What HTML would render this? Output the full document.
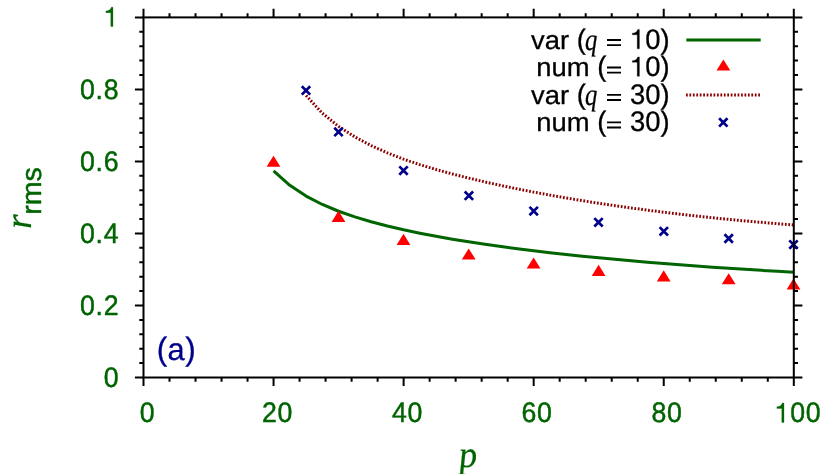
<!DOCTYPE html><html><head><meta charset="utf-8"><title>r_rms vs p</title><style>html,body{margin:0;padding:0;background:#fff}svg{display:block;will-change:transform;transform:translateZ(0);text-rendering:geometricPrecision}</style></head><body>
<svg width="830" height="474" viewBox="0 0 830 474">
<rect width="830" height="474" fill="#fff"/>
<text transform="translate(119.15,387.00) scale(0.975,1.030)" font-family="Liberation Sans, sans-serif" letter-spacing="0.65" font-size="27.4" fill="#006400" stroke="#006400" stroke-width="0.45" stroke-linejoin="round" text-anchor="end">0</text>
<text transform="translate(119.15,314.98) scale(0.975,1.030)" font-family="Liberation Sans, sans-serif" letter-spacing="0.65" font-size="27.4" fill="#006400" stroke="#006400" stroke-width="0.45" stroke-linejoin="round" text-anchor="end">0.2</text>
<text transform="translate(119.15,242.96) scale(0.975,1.030)" font-family="Liberation Sans, sans-serif" letter-spacing="0.65" font-size="27.4" fill="#006400" stroke="#006400" stroke-width="0.45" stroke-linejoin="round" text-anchor="end">0.4</text>
<text transform="translate(119.15,170.94) scale(0.975,1.030)" font-family="Liberation Sans, sans-serif" letter-spacing="0.65" font-size="27.4" fill="#006400" stroke="#006400" stroke-width="0.45" stroke-linejoin="round" text-anchor="end">0.6</text>
<text transform="translate(119.15,98.92) scale(0.975,1.030)" font-family="Liberation Sans, sans-serif" letter-spacing="0.65" font-size="27.4" fill="#006400" stroke="#006400" stroke-width="0.45" stroke-linejoin="round" text-anchor="end">0.8</text>
<path d="M112.97,26.60 L110.78,26.60 L110.78,12.63 L105.88,12.63 L105.88,10.93 C108.65,10.82 110.51,9.83 111.28,7.20 L112.97,7.20 Z" fill="#006400" stroke="#006400" stroke-width="0.27" stroke-linejoin="round"/>
<text transform="translate(139.70,422.40) scale(0.975,1.030)" font-family="Liberation Sans, sans-serif" letter-spacing="0.65" font-size="27.4" fill="#006400" stroke="#006400" stroke-width="0.45" stroke-linejoin="round" text-anchor="start">0</text>
<text transform="translate(262.00,422.40) scale(0.975,1.030)" font-family="Liberation Sans, sans-serif" letter-spacing="0.65" font-size="27.4" fill="#006400" stroke="#006400" stroke-width="0.45" stroke-linejoin="round" text-anchor="start">20</text>
<text transform="translate(392.00,422.40) scale(0.975,1.030)" font-family="Liberation Sans, sans-serif" letter-spacing="0.65" font-size="27.4" fill="#006400" stroke="#006400" stroke-width="0.45" stroke-linejoin="round" text-anchor="start">40</text>
<text transform="translate(521.50,422.40) scale(0.975,1.030)" font-family="Liberation Sans, sans-serif" letter-spacing="0.65" font-size="27.4" fill="#006400" stroke="#006400" stroke-width="0.45" stroke-linejoin="round" text-anchor="start">60</text>
<text transform="translate(651.50,422.40) scale(0.975,1.030)" font-family="Liberation Sans, sans-serif" letter-spacing="0.65" font-size="27.4" fill="#006400" stroke="#006400" stroke-width="0.45" stroke-linejoin="round" text-anchor="start">80</text>
<path d="M783.97,422.40 L781.78,422.40 L781.78,408.43 L776.87,408.43 L776.87,406.73 C779.64,406.62 781.50,405.63 782.27,403.00 L783.97,403.00 Z" fill="#006400" stroke="#006400" stroke-width="0.27" stroke-linejoin="round"/>
<text transform="translate(790.29,422.40) scale(0.975,1.030)" font-family="Liberation Sans, sans-serif" letter-spacing="0.65" font-size="27.4" fill="#006400" stroke="#006400" stroke-width="0.45" stroke-linejoin="round" text-anchor="start">00</text>
<text transform="translate(477.80,467.00) skewX(4.0) scale(0.980,1.000)" font-family="Liberation Serif, serif" font-style="italic" font-size="37.5" fill="#006400" stroke="#006400" stroke-width="0.20" stroke-linejoin="round" text-anchor="end">p</text>
<g transform="translate(30.9,227) rotate(-90)"><text transform="translate(-2.00,0.00) scale(1.000,1.000)" font-family="Liberation Serif, serif" font-style="italic" font-size="37.5" fill="#006400" stroke="#006400" stroke-width="0.20" stroke-linejoin="round" text-anchor="start">r</text><text transform="translate(12.20,10.30) scale(1.020,1.000)" font-family="Liberation Sans, sans-serif" font-size="28" fill="#006400" stroke="#006400" stroke-width="0.45" stroke-linejoin="round" text-anchor="start">rms</text></g>
<text transform="translate(156.75,359.80) scale(0.940,0.970)" font-family="Liberation Sans, sans-serif" font-size="33.5" fill="#00008b" stroke="#00008b" stroke-width="0.30" stroke-linejoin="round" text-anchor="start">(</text>
<text transform="translate(167.50,359.50) scale(0.920,0.930)" font-family="Liberation Sans, sans-serif" font-size="33.5" fill="#00008b" stroke="#00008b" stroke-width="0.30" stroke-linejoin="round" text-anchor="start">a</text>
<text transform="translate(185.30,359.80) scale(0.940,0.970)" font-family="Liberation Sans, sans-serif" font-size="33.5" fill="#00008b" stroke="#00008b" stroke-width="0.30" stroke-linejoin="round" text-anchor="start">)</text>
<path d="M143.50,377.50 v8.60 M143.50,17.40 v-8.60 M143.50,377.50 h-8.60 M793.80,377.50 h8.60 M169.51,377.50 v4.20 M169.51,17.40 v-4.20 M143.50,363.10 h-4.20 M793.80,363.10 h4.20 M195.52,377.50 v4.20 M195.52,17.40 v-4.20 M143.50,348.69 h-4.20 M793.80,348.69 h4.20 M221.54,377.50 v4.20 M221.54,17.40 v-4.20 M143.50,334.29 h-4.20 M793.80,334.29 h4.20 M247.55,377.50 v4.20 M247.55,17.40 v-4.20 M143.50,319.88 h-4.20 M793.80,319.88 h4.20 M273.56,377.50 v8.60 M273.56,17.40 v-8.60 M143.50,305.48 h-8.60 M793.80,305.48 h8.60 M299.57,377.50 v4.20 M299.57,17.40 v-4.20 M143.50,291.08 h-4.20 M793.80,291.08 h4.20 M325.58,377.50 v4.20 M325.58,17.40 v-4.20 M143.50,276.67 h-4.20 M793.80,276.67 h4.20 M351.60,377.50 v4.20 M351.60,17.40 v-4.20 M143.50,262.27 h-4.20 M793.80,262.27 h4.20 M377.61,377.50 v4.20 M377.61,17.40 v-4.20 M143.50,247.86 h-4.20 M793.80,247.86 h4.20 M403.62,377.50 v8.60 M403.62,17.40 v-8.60 M143.50,233.46 h-8.60 M793.80,233.46 h8.60 M429.63,377.50 v4.20 M429.63,17.40 v-4.20 M143.50,219.06 h-4.20 M793.80,219.06 h4.20 M455.64,377.50 v4.20 M455.64,17.40 v-4.20 M143.50,204.65 h-4.20 M793.80,204.65 h4.20 M481.66,377.50 v4.20 M481.66,17.40 v-4.20 M143.50,190.25 h-4.20 M793.80,190.25 h4.20 M507.67,377.50 v4.20 M507.67,17.40 v-4.20 M143.50,175.84 h-4.20 M793.80,175.84 h4.20 M533.68,377.50 v8.60 M533.68,17.40 v-8.60 M143.50,161.44 h-8.60 M793.80,161.44 h8.60 M559.69,377.50 v4.20 M559.69,17.40 v-4.20 M143.50,147.04 h-4.20 M793.80,147.04 h4.20 M585.70,377.50 v4.20 M585.70,17.40 v-4.20 M143.50,132.63 h-4.20 M793.80,132.63 h4.20 M611.72,377.50 v4.20 M611.72,17.40 v-4.20 M143.50,118.23 h-4.20 M793.80,118.23 h4.20 M637.73,377.50 v4.20 M637.73,17.40 v-4.20 M143.50,103.82 h-4.20 M793.80,103.82 h4.20 M663.74,377.50 v8.60 M663.74,17.40 v-8.60 M143.50,89.42 h-8.60 M793.80,89.42 h8.60 M689.75,377.50 v4.20 M689.75,17.40 v-4.20 M143.50,75.02 h-4.20 M793.80,75.02 h4.20 M715.76,377.50 v4.20 M715.76,17.40 v-4.20 M143.50,60.61 h-4.20 M793.80,60.61 h4.20 M741.78,377.50 v4.20 M741.78,17.40 v-4.20 M143.50,46.21 h-4.20 M793.80,46.21 h4.20 M767.79,377.50 v4.20 M767.79,17.40 v-4.20 M143.50,31.80 h-4.20 M793.80,31.80 h4.20 M793.80,377.50 v8.60 M793.80,17.40 v-8.60 M143.50,17.40 h-8.60 M793.80,17.40 h8.60" stroke="#000" stroke-width="2" fill="none"/>
<path d="M273.56,170.84 L289.82,185.33 L306.07,196.09 L322.33,204.47 L338.59,211.25 L354.85,216.93 L371.11,221.79 L387.36,226.04 L403.62,229.82 L419.88,233.22 L436.13,236.32 L452.39,239.17 L468.65,241.81 L484.91,244.26 L501.17,246.56 L517.42,248.71 L533.68,250.74 L549.94,252.65 L566.19,254.46 L582.45,256.17 L598.71,257.80 L614.97,259.35 L631.23,260.82 L647.48,262.22 L663.74,263.55 L680.00,264.82 L696.25,266.04 L712.51,267.19 L728.77,268.29 L745.03,269.35 L761.28,270.35 L777.54,271.31 L793.80,272.22" stroke="#006400" stroke-width="3" fill="none" stroke-linejoin="round"/>
<path d="M306.07,95.52 L322.33,113.19 L338.59,126.40 L354.85,136.94 L371.11,145.57 L387.36,152.87 L403.62,159.21 L419.88,164.63 L436.13,169.52 L452.39,173.98 L468.65,178.10 L484.91,181.94 L501.17,185.53 L517.42,188.91 L533.68,192.10 L549.94,195.12 L566.19,197.97 L582.45,200.68 L598.71,203.25 L614.97,205.68 L631.23,207.98 L647.48,210.16 L663.74,212.22 L680.00,214.17 L696.25,216.01 L712.51,217.75 L728.77,219.38 L745.03,220.92 L761.28,222.36 L777.54,223.71 L793.80,224.97" stroke="#8b0000" stroke-width="3" fill="none" stroke-dasharray="1.75 1.69"/>
<path d="M273.50,155.70 L266.60,166.80 L280.40,166.80 Z" fill="#ff0000"/>
<path d="M338.50,210.80 L331.60,221.90 L345.40,221.90 Z" fill="#ff0000"/>
<path d="M403.50,233.80 L396.60,244.90 L410.40,244.90 Z" fill="#ff0000"/>
<path d="M468.70,248.40 L461.80,259.50 L475.60,259.50 Z" fill="#ff0000"/>
<path d="M533.60,257.50 L526.70,268.60 L540.50,268.60 Z" fill="#ff0000"/>
<path d="M598.60,264.80 L591.70,275.90 L605.50,275.90 Z" fill="#ff0000"/>
<path d="M663.70,270.30 L656.80,281.40 L670.60,281.40 Z" fill="#ff0000"/>
<path d="M728.70,273.20 L721.80,284.30 L735.60,284.30 Z" fill="#ff0000"/>
<path d="M793.50,278.40 L786.60,289.50 L800.40,289.50 Z" fill="#ff0000"/>
<path d="M301.80,86.20 L310.20,94.60 M301.80,94.60 L310.20,86.20" stroke="#00008b" stroke-width="2.70" fill="none"/>
<path d="M334.30,127.70 L342.70,136.10 M334.30,136.10 L342.70,127.70" stroke="#00008b" stroke-width="2.70" fill="none"/>
<path d="M399.30,166.40 L407.70,174.80 M399.30,174.80 L407.70,166.40" stroke="#00008b" stroke-width="2.70" fill="none"/>
<path d="M464.70,191.50 L473.10,199.90 M464.70,199.90 L473.10,191.50" stroke="#00008b" stroke-width="2.70" fill="none"/>
<path d="M529.50,206.90 L537.90,215.30 M529.50,215.30 L537.90,206.90" stroke="#00008b" stroke-width="2.70" fill="none"/>
<path d="M594.30,218.10 L602.70,226.50 M594.30,226.50 L602.70,218.10" stroke="#00008b" stroke-width="2.70" fill="none"/>
<path d="M659.60,227.10 L668.00,235.50 M659.60,235.50 L668.00,227.10" stroke="#00008b" stroke-width="2.70" fill="none"/>
<path d="M724.50,234.30 L732.90,242.70 M724.50,242.70 L732.90,234.30" stroke="#00008b" stroke-width="2.70" fill="none"/>
<path d="M789.30,240.40 L797.70,248.80 M789.30,248.80 L797.70,240.40" stroke="#00008b" stroke-width="2.70" fill="none"/>
<rect x="143.50" y="17.40" width="650.30" height="360.10" fill="none" stroke="#000" stroke-width="2"/>
<text transform="translate(576.75,48.80) scale(1.000,0.955)" font-family="Liberation Sans, sans-serif" font-size="27.4" fill="#000" stroke="#000" stroke-width="0.30" stroke-linejoin="round" text-anchor="end">var&#160;</text>
<text transform="translate(630.01,48.80) scale(1.000,1.030)" font-family="Liberation Sans, sans-serif" font-size="27.4" fill="#000" stroke="#000" stroke-width="0.30" stroke-linejoin="round" text-anchor="end">(<tspan font-family="Liberation Serif, serif" font-style="italic" font-size="30" textLength="12.3" dx="-0.8" dy="0.8" lengthAdjust="spacingAndGlyphs">q</tspan><tspan dx="1.4" dy="-0.8" fill="none" stroke="none">&#160;=&#160;</tspan></text>
<path d="M607,39.95 h14 M607,45.10 h14" stroke="#000" stroke-width="1.95" fill="none"/>
<path d="M639.42,48.80 L637.22,48.80 L637.22,34.83 L632.32,34.83 L632.32,33.13 C635.09,33.02 636.95,32.03 637.72,29.40 L639.42,29.40 Z" fill="#000" stroke="#000" stroke-width="0.27" stroke-linejoin="round"/>
<text transform="translate(645.24,48.80) scale(1.000,1.030)" font-family="Liberation Sans, sans-serif" font-size="27.4" fill="#000" stroke="#000" stroke-width="0.30" stroke-linejoin="round" text-anchor="start">0)</text>
<text transform="translate(597.26,76.30) scale(1.000,0.955)" font-family="Liberation Sans, sans-serif" font-size="27.4" fill="#000" stroke="#000" stroke-width="0.30" stroke-linejoin="round" text-anchor="end">num&#160;</text>
<text transform="translate(630.01,76.30) scale(1.000,1.030)" font-family="Liberation Sans, sans-serif" font-size="27.4" fill="#000" stroke="#000" stroke-width="0.30" stroke-linejoin="round" text-anchor="end">(<tspan fill="none" stroke="none">=&#160;</tspan></text>
<path d="M607,67.45 h14 M607,72.60 h14" stroke="#000" stroke-width="1.95" fill="none"/>
<path d="M639.42,76.30 L637.22,76.30 L637.22,62.33 L632.32,62.33 L632.32,60.63 C635.09,60.52 636.95,59.53 637.72,56.90 L639.42,56.90 Z" fill="#000" stroke="#000" stroke-width="0.27" stroke-linejoin="round"/>
<text transform="translate(645.24,76.30) scale(1.000,1.030)" font-family="Liberation Sans, sans-serif" font-size="27.4" fill="#000" stroke="#000" stroke-width="0.30" stroke-linejoin="round" text-anchor="start">0)</text>
<text transform="translate(576.75,103.70) scale(1.000,0.955)" font-family="Liberation Sans, sans-serif" font-size="27.4" fill="#000" stroke="#000" stroke-width="0.30" stroke-linejoin="round" text-anchor="end">var&#160;</text>
<text transform="translate(630.01,103.70) scale(1.000,1.030)" font-family="Liberation Sans, sans-serif" font-size="27.4" fill="#000" stroke="#000" stroke-width="0.30" stroke-linejoin="round" text-anchor="end">(<tspan font-family="Liberation Serif, serif" font-style="italic" font-size="30" textLength="12.3" dx="-0.8" dy="0.8" lengthAdjust="spacingAndGlyphs">q</tspan><tspan dx="1.4" dy="-0.8" fill="none" stroke="none">&#160;=&#160;</tspan></text>
<path d="M607,94.85 h14 M607,100.00 h14" stroke="#000" stroke-width="1.95" fill="none"/>
<text transform="translate(630.01,103.70) scale(1.000,1.030)" font-family="Liberation Sans, sans-serif" font-size="27.4" fill="#000" stroke="#000" stroke-width="0.30" stroke-linejoin="round" text-anchor="start">30)</text>
<text transform="translate(597.26,131.20) scale(1.000,0.955)" font-family="Liberation Sans, sans-serif" font-size="27.4" fill="#000" stroke="#000" stroke-width="0.30" stroke-linejoin="round" text-anchor="end">num&#160;</text>
<text transform="translate(630.01,131.20) scale(1.000,1.030)" font-family="Liberation Sans, sans-serif" font-size="27.4" fill="#000" stroke="#000" stroke-width="0.30" stroke-linejoin="round" text-anchor="end">(<tspan fill="none" stroke="none">=&#160;</tspan></text>
<path d="M607,122.35 h14 M607,127.50 h14" stroke="#000" stroke-width="1.95" fill="none"/>
<text transform="translate(630.01,131.20) scale(1.000,1.030)" font-family="Liberation Sans, sans-serif" font-size="27.4" fill="#000" stroke="#000" stroke-width="0.30" stroke-linejoin="round" text-anchor="start">30)</text>
<path d="M686.3,39.90 H760.7" stroke="#006400" stroke-width="3" fill="none"/>
<path d="M723.40,59.50 L716.50,70.60 L730.30,70.60 Z" fill="#ff0000"/>
<path d="M686.0,94.95 H760.2" stroke="#8b0000" stroke-width="3" fill="none" stroke-dasharray="1.75 1.69"/>
<path d="M719.10,118.20 L727.50,126.60 M719.10,126.60 L727.50,118.20" stroke="#00008b" stroke-width="2.70" fill="none"/>
</svg></body></html>
